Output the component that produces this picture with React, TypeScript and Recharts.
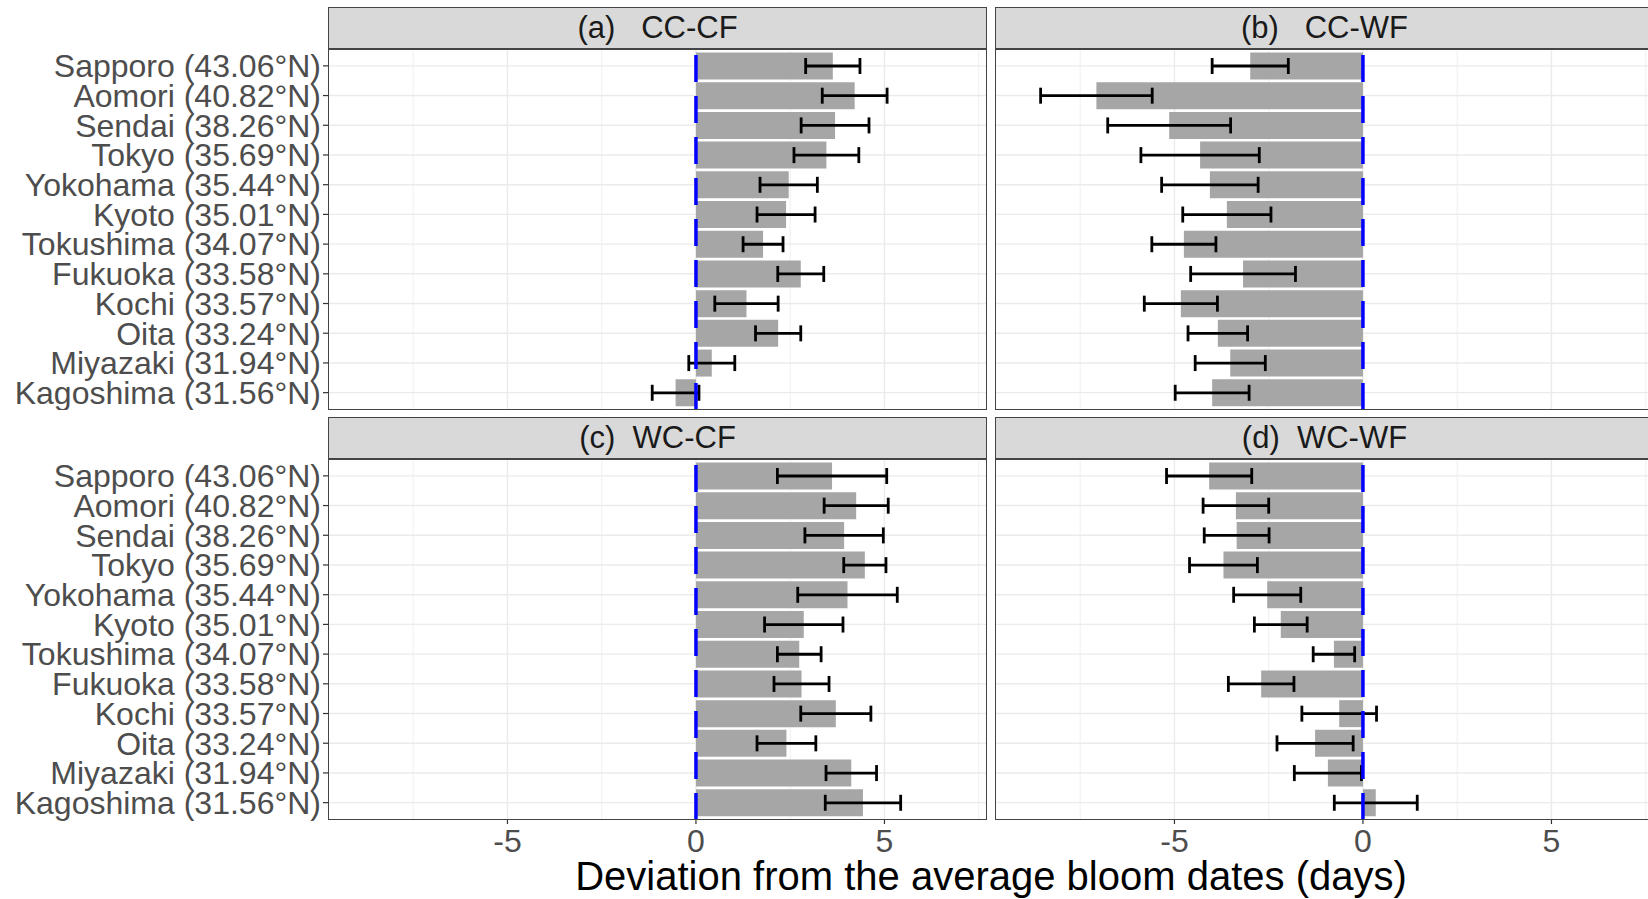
import React from 'react';
import { BarChart, Bar, XAxis, YAxis, CartesianGrid, ReferenceLine, ErrorBar } from 'recharts';

const cities = [
  'Sapporo (43.06°N)',
  'Aomori (40.82°N)',
  'Sendai (38.26°N)',
  'Tokyo (35.69°N)',
  'Yokohama (35.44°N)',
  'Kyoto (35.01°N)',
  'Tokushima (34.07°N)',
  'Fukuoka (33.58°N)',
  'Kochi (33.57°N)',
  'Oita (33.24°N)',
  'Miyazaki (31.94°N)',
  'Kagoshima (31.56°N)',
];

// (a) CC-CF
const ccCfMean = [3.63, 4.21, 3.69, 3.46, 2.46, 2.39, 1.78, 2.78, 1.34, 2.18, 0.42, -0.54];
const ccCfErr = [0.72, 0.86, 0.9, 0.86, 0.76, 0.77, 0.53, 0.61, 0.84, 0.6, 0.61, 0.62];
// (b) CC-WF
const ccWfMean = [-2.99, -7.07, -5.14, -4.32, -4.06, -3.61, -4.75, -3.18, -4.83, -3.85, -3.52, -4.0];
const ccWfErr = [1.01, 1.48, 1.63, 1.57, 1.28, 1.17, 0.85, 1.39, 0.97, 0.79, 0.93, 0.98];
// (c) WC-CF
const wcCfMean = [3.61, 4.25, 3.93, 4.48, 4.02, 2.86, 2.74, 2.8, 3.71, 2.4, 4.12, 4.43];
const wcCfErr = [1.45, 0.85, 1.04, 0.56, 1.32, 1.04, 0.58, 0.73, 0.93, 0.78, 0.67, 1.0];
// (d) WC-WF
const wcWfMean = [-4.08, -3.37, -3.35, -3.7, -2.54, -2.18, -0.77, -2.7, -0.63, -1.27, -0.93, 0.34];
const wcWfErr = [1.13, 0.87, 0.86, 0.9, 0.89, 0.7, 0.55, 0.87, 0.99, 1.01, 0.89, 1.1];

const stripLabels = ['(a)   CC-CF', '(b)   CC-WF', '(c)  WC-CF', '(d)  WC-WF'];
const xDomain = [-9.76, 7.72];
const majorTicks = [-5, 0, 5];
const minorTicks = [-7.5, -2.5, 2.5, 7.5];
const axisTitle = 'Deviation from the average bloom dates (days)';

const FONT = '"Liberation Sans", Arial, Helvetica, sans-serif';

function buildRows(mean: number[], err: number[]) {
  return cities.map((c, i) => ({ city: c, value: mean[i], err: err[i] }));
}

type PanelProps = {
  rows: { city: string; value: number; err: number }[];
  plotX: number;
  plotY: number;
  stripTop: number;
  strip: string;
  showY: boolean;
  showX: boolean;
};

const PLOT_W = 659;
const PLOT_H = 361;
const STRIP_H = 42;
const YAXIS_W = 328;
const XAXIS_H = 60;

function Panel({ rows, plotX, plotY, stripTop, strip, showY, showX }: PanelProps) {
  const chartLeft = showY ? plotX - YAXIS_W : plotX;
  const chartW = showY ? PLOT_W + YAXIS_W : PLOT_W;
  const chartH = PLOT_H + (showX ? XAXIS_H : 0);
  return (
    <>
      <div
        style={{
          position: 'absolute',
          left: plotX,
          top: stripTop,
          width: PLOT_W,
          height: STRIP_H,
          boxSizing: 'border-box',
          border: '1.5px solid #444',
          background: '#d9d9d9',
          display: 'flex',
          alignItems: 'center',
          justifyContent: 'center',
          fontSize: 31,
          color: '#1a1a1a',
          whiteSpace: 'pre',
          fontFamily: FONT,
        }}
      >
        {strip}
      </div>
      <div style={{ position: 'absolute', left: chartLeft, top: plotY, width: chartW, height: chartH }}>
        <BarChart
          width={chartW}
          height={chartH}
          data={rows}
          layout="vertical"
          margin={{ top: 0, right: 0, bottom: 0, left: 0 }}
          barCategoryGap="5%"
        >
          <CartesianGrid
            horizontal={false}
            vertical
            verticalValues={minorTicks}
            stroke="#ebebeb"
            strokeWidth={0.8}
            fill="none"
          />
          <CartesianGrid
            horizontal
            vertical
            verticalValues={majorTicks}
            horizontalValues={cities}
            stroke="#ebebeb"
            strokeWidth={1.4}
            fill="none"
          />
          <XAxis
            type="number"
            domain={xDomain}
            allowDataOverflow
            ticks={majorTicks}
            interval={0}
            hide={!showX}
            height={XAXIS_H}
            axisLine={false}
            tickSize={4}
            tickMargin={5}
            tickLine={{ stroke: '#333333', strokeWidth: 1.2 }}
            tick={{ fill: '#4d4d4d', fontSize: 32, fontFamily: FONT }}
          />
          <YAxis
            type="category"
            dataKey="city"
            hide={!showY}
            width={YAXIS_W}
            padding={{ top: 2, bottom: 2.5 }}
            axisLine={false}
            interval={0}
            tickSize={5}
            tickMargin={2}
            tickLine={{ stroke: '#333333', strokeWidth: 1.2 }}
            tick={{ fill: '#4d4d4d', fontSize: 32, fontFamily: FONT }}
          />
          <Bar dataKey="value" fill="#a6a6a6" isAnimationActive={false}>
            <ErrorBar
              dataKey="err"
              direction="x"
              width={8}
              strokeWidth={2.8}
              stroke="#000000"
              isAnimationActive={false}
            />
          </Bar>
          <ReferenceLine x={0} stroke="#0000ff" strokeWidth={3.5} strokeDasharray="27 14" />
        </BarChart>
      </div>
      <div
        style={{
          position: 'absolute',
          left: plotX,
          top: plotY,
          width: PLOT_W,
          height: PLOT_H,
          boxSizing: 'border-box',
          border: '1.5px solid #444',
          pointerEvents: 'none',
        }}
      />
    </>
  );
}

export default function App() {
  return (
    <div
      style={{
        position: 'absolute',
        left: 0,
        top: 0,
        width: 1648,
        height: 899,
        overflow: 'hidden',
        background: '#ffffff',
        fontFamily: FONT,
      }}
    >
      <Panel rows={buildRows(ccCfMean, ccCfErr)} plotX={328} plotY={49} stripTop={7} strip={stripLabels[0]} showY showX={false} />
      <Panel rows={buildRows(ccWfMean, ccWfErr)} plotX={995} plotY={49} stripTop={7} strip={stripLabels[1]} showY={false} showX={false} />
      <Panel rows={buildRows(wcCfMean, wcCfErr)} plotX={328} plotY={459} stripTop={417} strip={stripLabels[2]} showY showX />
      <Panel rows={buildRows(wcWfMean, wcWfErr)} plotX={995} plotY={459} stripTop={417} strip={stripLabels[3]} showY={false} showX />
      <div
        style={{
          position: 'absolute',
          left: 328,
          width: 1326,
          top: 856,
          fontSize: 40,
          lineHeight: '40px',
          textAlign: 'center',
          color: '#000000',
          whiteSpace: 'pre',
          fontFamily: FONT,
        }}
      >
        {axisTitle}
      </div>
    </div>
  );
}
